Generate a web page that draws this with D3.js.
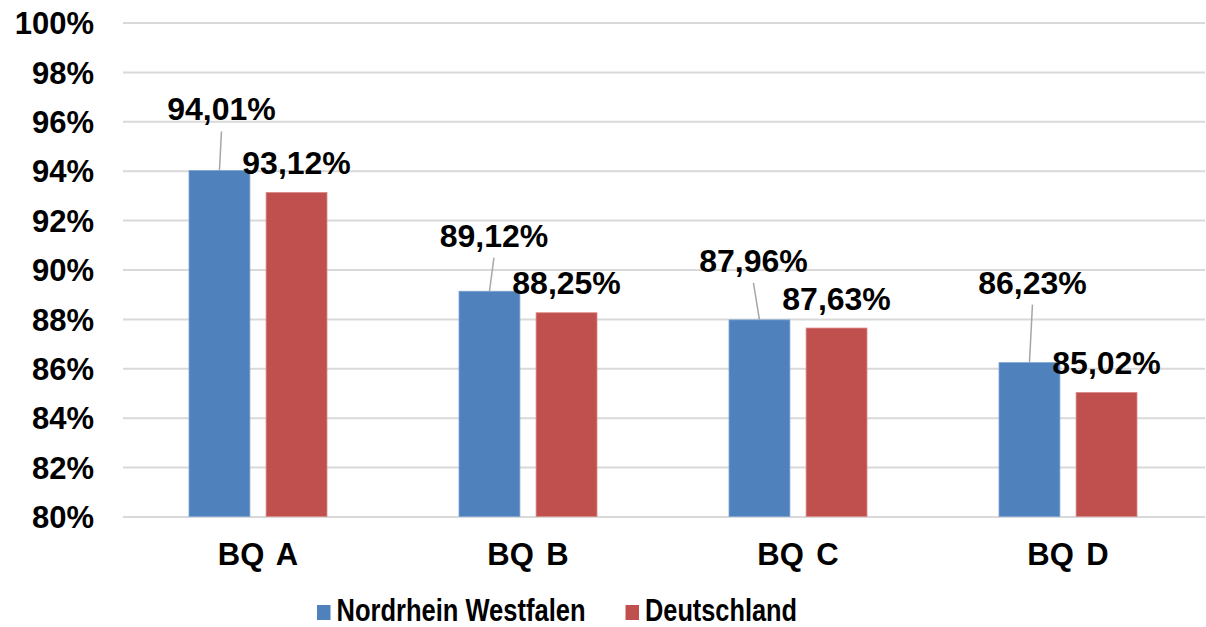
<!DOCTYPE html>
<html>
<head>
<meta charset="utf-8">
<script src="https://cdn.jsdelivr.net/npm/d3@7"></script>
<style>
    body { margin: 0; background: #fff; }
    text { font-family: "Liberation Sans", Arial, sans-serif; font-weight: bold; fill: #000; }
</style>
</head>
<body>
<div id="canvas"></div>
<script>
const categories = ["BQ A", "BQ B", "BQ C", "BQ D"];
const seriesNames = ["Nordrhein Westfalen", "Deutschland"];
const nrwValues = [94.01, 89.12, 87.96, 86.23];
const deValues = [93.12, 88.25, 87.63, 85.02];
const yTicks = [80, 82, 84, 86, 88, 90, 92, 94, 96, 98, 100];

// label placement (px) for the blue labels, which sit higher with a leader line
const nrwLabelShift = [[2, -50], [4.5, -44.5], [-6, -48], [3, -69]];

const colors = ["#4f81bd", "#c0504d"];

const width = 1206;
const height = 627;

const svg = d3.select("#canvas").append("svg")
    .attr("width", width)
    .attr("height", height);

const x = d3.scaleBand()
    .domain(categories)
    .range([123, 1203]);

const xs = d3.scaleBand()
    .domain(seriesNames)
    .range([66, 204])
    .paddingInner(0.21);

const y = d3.scaleLinear()
    .domain([80, 100])
    .range([516.5, 22.5]);

const locale = d3.formatLocale({ decimal: ",", thousands: ".", grouping: [3], currency: ["", "€"] });
const fmt = locale.format(".2f");

// grid + y labels
const yAxis = svg.append("g")
    .attr("transform", "translate(123,0)")
    .call(d3.axisLeft(y).tickValues(yTicks).tickSize(-(1205 - 123)).tickPadding(29).tickFormat(d => d + "%"));
yAxis.select(".domain").remove();
yAxis.selectAll("line").attr("stroke", "#d9d9d9").attr("stroke-width", 2);
yAxis.selectAll("text")
    .style("font-size", "31px")
    .attr("fill", "#000")
    .attr("dy", "0.36em");

const data = categories.map((c, i) => ({ cat: c, i: i, vals: [nrwValues[i], deValues[i]] }));

const groups = svg.selectAll("g.cat").data(data).enter().append("g")
    .attr("class", "cat")
    .attr("transform", d => `translate(${x(d.cat)},0)`);

groups.selectAll("rect")
    .data(d => d.vals.map((v, k) => ({ v: v, k: k })))
    .enter().append("rect")
    .attr("x", d => xs(seriesNames[d.k]))
    .attr("y", d => y(d.v))
    .attr("width", xs.bandwidth())
    .attr("height", d => y(80) - y(d.v))
    .attr("fill", d => colors[d.k])
    .attr("stroke", d => d.k === 0 ? "#7fa3d4" : "#d88a88")
    .attr("stroke-width", 0.8);

// blue labels with leader lines
groups.append("line")
    .attr("x1", d => xs(seriesNames[0]) + xs.bandwidth() / 2 + nrwLabelShift[d.i][0])
    .attr("y1", d => y(d.vals[0]) + nrwLabelShift[d.i][1] + 11)
    .attr("x2", d => xs(seriesNames[0]) + xs.bandwidth() / 2)
    .attr("y2", d => y(d.vals[0]))
    .attr("stroke", "#a6a6a6")
    .attr("stroke-width", 1.5);

groups.append("text")
    .attr("text-anchor", "middle")
    .style("font-size", "32px")
    .attr("x", d => xs(seriesNames[0]) + xs.bandwidth() / 2 + nrwLabelShift[d.i][0])
    .attr("y", d => y(d.vals[0]) + nrwLabelShift[d.i][1])
    .text(d => fmt(d.vals[0]) + "%");

groups.append("text")
    .attr("text-anchor", "middle")
    .style("font-size", "32px")
    .attr("x", d => xs(seriesNames[1]) + xs.bandwidth() / 2)
    .attr("y", d => y(d.vals[1]) - 18.5)
    .text(d => fmt(d.vals[1]) + "%");

// category labels
svg.append("g").selectAll("text").data(categories).enter().append("text")
    .attr("text-anchor", "middle")
    .style("font-size", "31px")
    .style("word-spacing", "4px")
    .attr("x", d => x(d) + x.bandwidth() / 2)
    .attr("y", 565)
    .text(d => d);

// legend
const legendX = [317, 625.5];
const legendLen = [249, 152];
const legend = svg.append("g");
seriesNames.forEach((s, k) => {
    legend.append("rect")
        .attr("x", legendX[k])
        .attr("y", 605)
        .attr("width", 13.5)
        .attr("height", 15)
        .attr("fill", colors[k]);
    legend.append("text")
        .attr("x", legendX[k] + 19.5)
        .attr("y", 621)
        .style("font-size", "31px")
        .attr("textLength", legendLen[k])
        .attr("lengthAdjust", "spacingAndGlyphs")
        .text(s);
});
</script>
</body>
</html>
